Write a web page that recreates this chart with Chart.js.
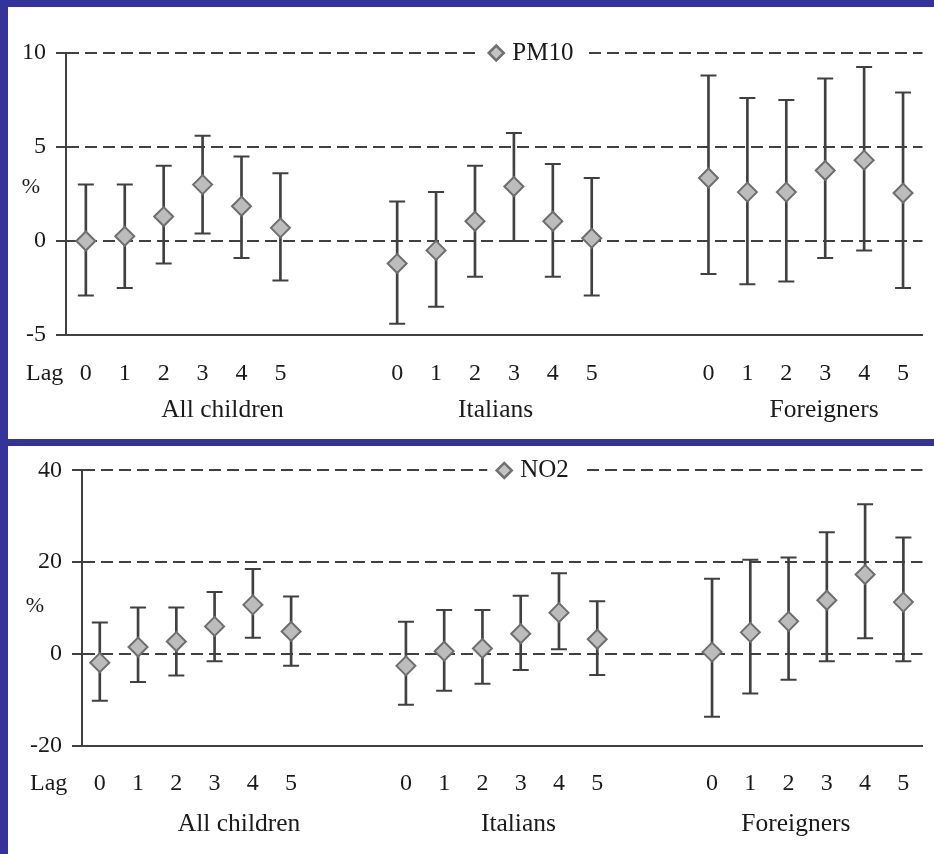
<!DOCTYPE html>
<html>
<head>
<meta charset="utf-8">
<script src="https://cdn.jsdelivr.net/npm/chart.js@4/dist/chart.umd.min.js"></script>
<style>
  html, body { margin: 0; padding: 0; background: #333399; }
  body { width: 934px; height: 854px; position: relative; overflow: hidden; }
  .panel { position: absolute; left: 8px; width: 926px; background: #fff; }
  .panel canvas { display: block; }
  #topPanel { top: 7px; height: 432px; }
  #bottomPanel { top: 446px; height: 408px; }
</style>
</head>
<body>
<div class="panel" id="topPanel"><canvas id="pm10Chart" width="926" height="432"></canvas></div>
<div class="panel" id="bottomPanel"><canvas id="no2Chart" width="926" height="408"></canvas></div>
<script>
// カテゴリ
const lagLabels = ["0", "1", "2", "3", "4", "5"];
const groupNames = ["All children", "Italians", "Foreigners"];

// PM10 (%) : All children / Italians / Foreigners, lag 0-5
const pm10Est = [0.0, 0.25, 1.3, 3.0, 1.85, 0.7,   -1.2, -0.5, 1.05, 2.9, 1.05, 0.15,   3.35, 2.6, 2.6, 3.75, 4.3, 2.55];
const pm10Lo  = [-2.9, -2.5, -1.2, 0.4, -0.9, -2.1, -4.4, -3.5, -1.9, 0.0, -1.9, -2.9,   -1.75, -2.3, -2.15, -0.9, -0.5, -2.5];
const pm10Hi  = [3.0, 3.0, 4.0, 5.6, 4.5, 3.6,      2.1, 2.6, 4.0, 5.75, 4.1, 3.35,      8.8, 7.6, 7.5, 8.65, 9.25, 7.9];

// NO2 (%)
const no2Est = [-1.9, 1.5, 2.7, 6.0, 10.7, 4.9,     -2.6, 0.6, 1.2, 4.4, 9.0, 3.2,       0.4, 4.7, 7.1, 11.7, 17.3, 11.3];
const no2Lo  = [-10.2, -6.1, -4.7, -1.6, 3.5, -2.6, -11.1, -8.0, -6.5, -3.5, 1.0, -4.6,  -13.7, -8.6, -5.6, -1.6, 3.4, -1.6];
const no2Hi  = [6.85, 10.1, 10.1, 13.5, 18.5, 12.5, 7.0, 9.6, 9.6, 12.7, 17.6, 11.5,     16.4, 20.5, 21.0, 26.5, 32.6, 25.4];

// 見た目
const SLOTS_PER_GROUP = 8; // 6 lags + 2 empty slots between groups
const LINE = "#404040";
const TEXT = "#1a1a1a";
const FONT = '"Liberation Serif", "Times New Roman", serif';

Chart.defaults.font.family = FONT;
Chart.defaults.font.size = 24;
Chart.defaults.color = TEXT;

function slotOf(i) {
  return Math.floor(i / lagLabels.length) * SLOTS_PER_GROUP + (i % lagLabels.length);
}
function points(values) {
  return values.map((v, i) => ({ x: slotOf(i), y: v }));
}
const tickSlots = groupNames.flatMap((_, g) => lagLabels.map((_, l) => g * SLOTS_PER_GROUP + l));

// Lag / % / group names / legend on top gridline
const panelText = {
  id: "panelText",
  afterDraw(chart, args, o) {
    const { ctx, chartArea } = chart;
    const xs = chart.scales.x;
    ctx.save();
    ctx.fillStyle = TEXT;
    ctx.font = "24px " + FONT;
    ctx.textBaseline = "middle";
    ctx.textAlign = "left";
    ctx.fillText("Lag", o.lagX, chartArea.bottom + o.lagDy);
    ctx.textAlign = "center";
    ctx.font = "22px " + FONT;
    ctx.fillText("%", o.pctX, (chartArea.top + chartArea.bottom) / 2 + o.pctDy);
    ctx.font = "25.5px " + FONT;
    groupNames.forEach((g, i) => {
      ctx.fillText(g, xs.getPixelForValue(o.groupAt[i]), chartArea.bottom + o.groupDy);
    });

    // legend
    ctx.font = "25px " + FONT;
    const cx = (chartArea.left + chartArea.right) / 2 + 2;
    const cy = chartArea.top;
    const tw = ctx.measureText(o.title).width;
    ctx.fillStyle = "#fff";
    ctx.fillRect(cx - 17, cy - 4, 17 + tw + 30, 8);
    const r = 7.5;
    ctx.beginPath();
    ctx.moveTo(cx - r, cy);
    ctx.lineTo(cx, cy - r);
    ctx.lineTo(cx + r, cy);
    ctx.lineTo(cx, cy + r);
    ctx.closePath();
    ctx.fillStyle = "#c4c4c4";
    ctx.fill();
    ctx.lineWidth = 2.5;
    ctx.strokeStyle = "#707070";
    ctx.stroke();
    ctx.fillStyle = TEXT;
    ctx.textAlign = "left";
    ctx.fillText(o.title, cx + 16, cy);
    ctx.restore();
  }
};

function buildChart(canvasId, est, lo, hi, yMin, yMax, yStep, look) {
  const ctx = document.getElementById(canvasId).getContext("2d");
  return new Chart(ctx, {
    type: "scatter",
    data: {
      datasets: [
        {
          type: "scatter",
          data: points(est),
          pointStyle: "rectRot",
          pointRadius: 9.5,
          pointBackgroundColor: "#bcbcbc",
          pointBorderColor: "#6e6e6e",
          pointBorderWidth: 2
        },
        {
          type: "scatter",
          data: points(hi),
          pointStyle: "line",
          pointRadius: 8,
          pointBorderColor: LINE,
          pointBorderWidth: 2
        },
        {
          type: "scatter",
          data: points(lo),
          pointStyle: "line",
          pointRadius: 8,
          pointBorderColor: LINE,
          pointBorderWidth: 2
        },
        {
          type: "bar",
          data: est.map((_, i) => ({ x: slotOf(i), y: [lo[i], hi[i]] })),
          backgroundColor: LINE,
          barThickness: 2,
          grouped: false
        }
      ]
    },
    options: {
      responsive: false,
      animation: false,
      events: [],
      layout: { padding: { top: look.padTop, right: 2, left: 0, bottom: 0 } },
      plugins: {
        legend: { display: false },
        tooltip: { enabled: false },
        panelText: look
      },
      scales: {
        x: {
          type: "linear",
          min: look.xMin,
          max: 21.5,
          offset: false,
          grid: { display: false, drawTicks: false, offset: false },
          border: { display: true, color: LINE, width: 2 },
          afterBuildTicks(scale) { scale.ticks = tickSlots.map(v => ({ value: v })); },
          afterFit(scale) { scale.height = look.xAxisHeight; },
          ticks: {
            autoSkip: false,
            maxRotation: 0,
            padding: look.tickPad,
            callback: v => lagLabels[v % SLOTS_PER_GROUP]
          }
        },
        y: {
          min: yMin,
          max: yMax,
          ticks: { stepSize: yStep, padding: 10 },
          grid: { color: LINE, lineWidth: 2, drawTicks: true, tickLength: 10, tickColor: LINE, tickWidth: 2 },
          border: { display: true, color: LINE, width: 2, dash: [12, 6] },
          afterFit(scale) { scale.width = look.yAxisWidth; }
        }
      }
    },
    plugins: [panelText]
  });
}

buildChart("pm10Chart", pm10Est, pm10Lo, pm10Hi, -5, 10, 5, {
  title: "PM10", yAxisWidth: 58, padTop: 46, xAxisHeight: 104, xMin: -0.51, tickPad: 24,
  lagX: 18, lagDy: 38.6, pctX: 23, pctDy: -7, groupAt: [3.51, 10.53, 18.97], groupDy: 75
});
buildChart("no2Chart", no2Est, no2Lo, no2Hi, -20, 40, 20, {
  title: "NO2", yAxisWidth: 74, padTop: 22.3, xAxisHeight: 108.3, xMin: -0.465, tickPad: 23.5,
  lagX: 22, lagDy: 38, pctX: 27, pctDy: -2, groupAt: [3.64, 10.94, 18.19], groupDy: 79
});
</script>
</body>
</html>
